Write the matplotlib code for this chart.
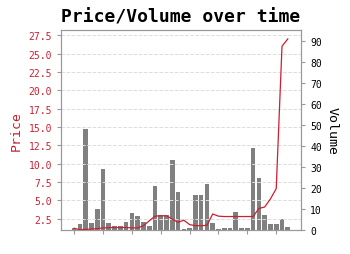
import matplotlib
matplotlib.use("Agg")
import matplotlib.pyplot as plt
import numpy as np

# daily price / volume readings
price = [1.2, 1.0, 1.05, 1.1, 1.15, 1.25, 1.28, 1.3, 1.3, 1.3,
         1.25, 1.25, 1.55, 2.2, 2.85, 2.9, 2.9, 2.45, 2.0, 2.3,
         1.7, 1.55, 1.55, 1.6, 3.15, 2.85, 2.8, 2.8, 2.8, 2.8,
         2.8, 2.8, 3.9, 4.1, 5.2, 6.6, 26.0, 27.0]
volume = [1.1, 3.0, 47.9, 3.5, 10.0, 28.9, 3.2, 2.1, 2.1, 4.0,
          7.9, 6.7, 4.0, 1.9, 20.8, 7.3, 7.3, 33.1, 17.9, 0.3,
          1.0, 16.6, 16.6, 21.7, 3.5, 0.3, 1.0, 0.8, 8.6, 0.8,
          0.8, 39.1, 24.9, 7.3, 3.0, 3.0, 5.1, 1.4]
days = np.arange(len(price))

red = "#cc1f2f"
edge = "#999999"
plt.rcParams["font.family"] = "DejaVu Sans Mono"

fig = plt.figure(figsize=(3.5, 2.55), dpi=100)
ax = fig.add_axes([0.174, 0.094, 0.686, 0.784])
ax2 = ax.twinx()

ax2.bar(days, volume, width=0.8, color="#808080")
ax.plot(days, price, color=red, linewidth=0.9)

ax.set_zorder(ax2.get_zorder() + 1)
ax.patch.set_visible(False)

ax.set_ylim(0.96, 28.2)
ax2.set_ylim(0, 95)
ax.set_yticks(np.arange(2.5, 28, 2.5))
ax2.set_yticks(np.arange(0, 91, 10))
ax.set_xticks(np.arange(0, 36, 5))
ax.tick_params(labelbottom=False)

ax.grid(axis="y", linestyle="--", color="#dddddd", linewidth=0.7)

ax.set_title("Price/Volume over time", fontsize=13, fontweight="bold")
ax.set_ylabel("Price", color=red, fontsize=9.5)
ax2.set_ylabel("Volume", rotation=270, labelpad=12, fontsize=9.5)

ax.tick_params(axis="y", colors=edge, labelcolor=red, labelsize=7, length=3)
ax.tick_params(axis="x", colors=edge, length=3)
ax2.tick_params(axis="y", colors=edge, labelcolor="black", labelsize=7, length=3)
for a in (ax, ax2):
    for s in a.spines.values():
        s.set_color(edge)

fig.savefig("out.png", dpi=100)
